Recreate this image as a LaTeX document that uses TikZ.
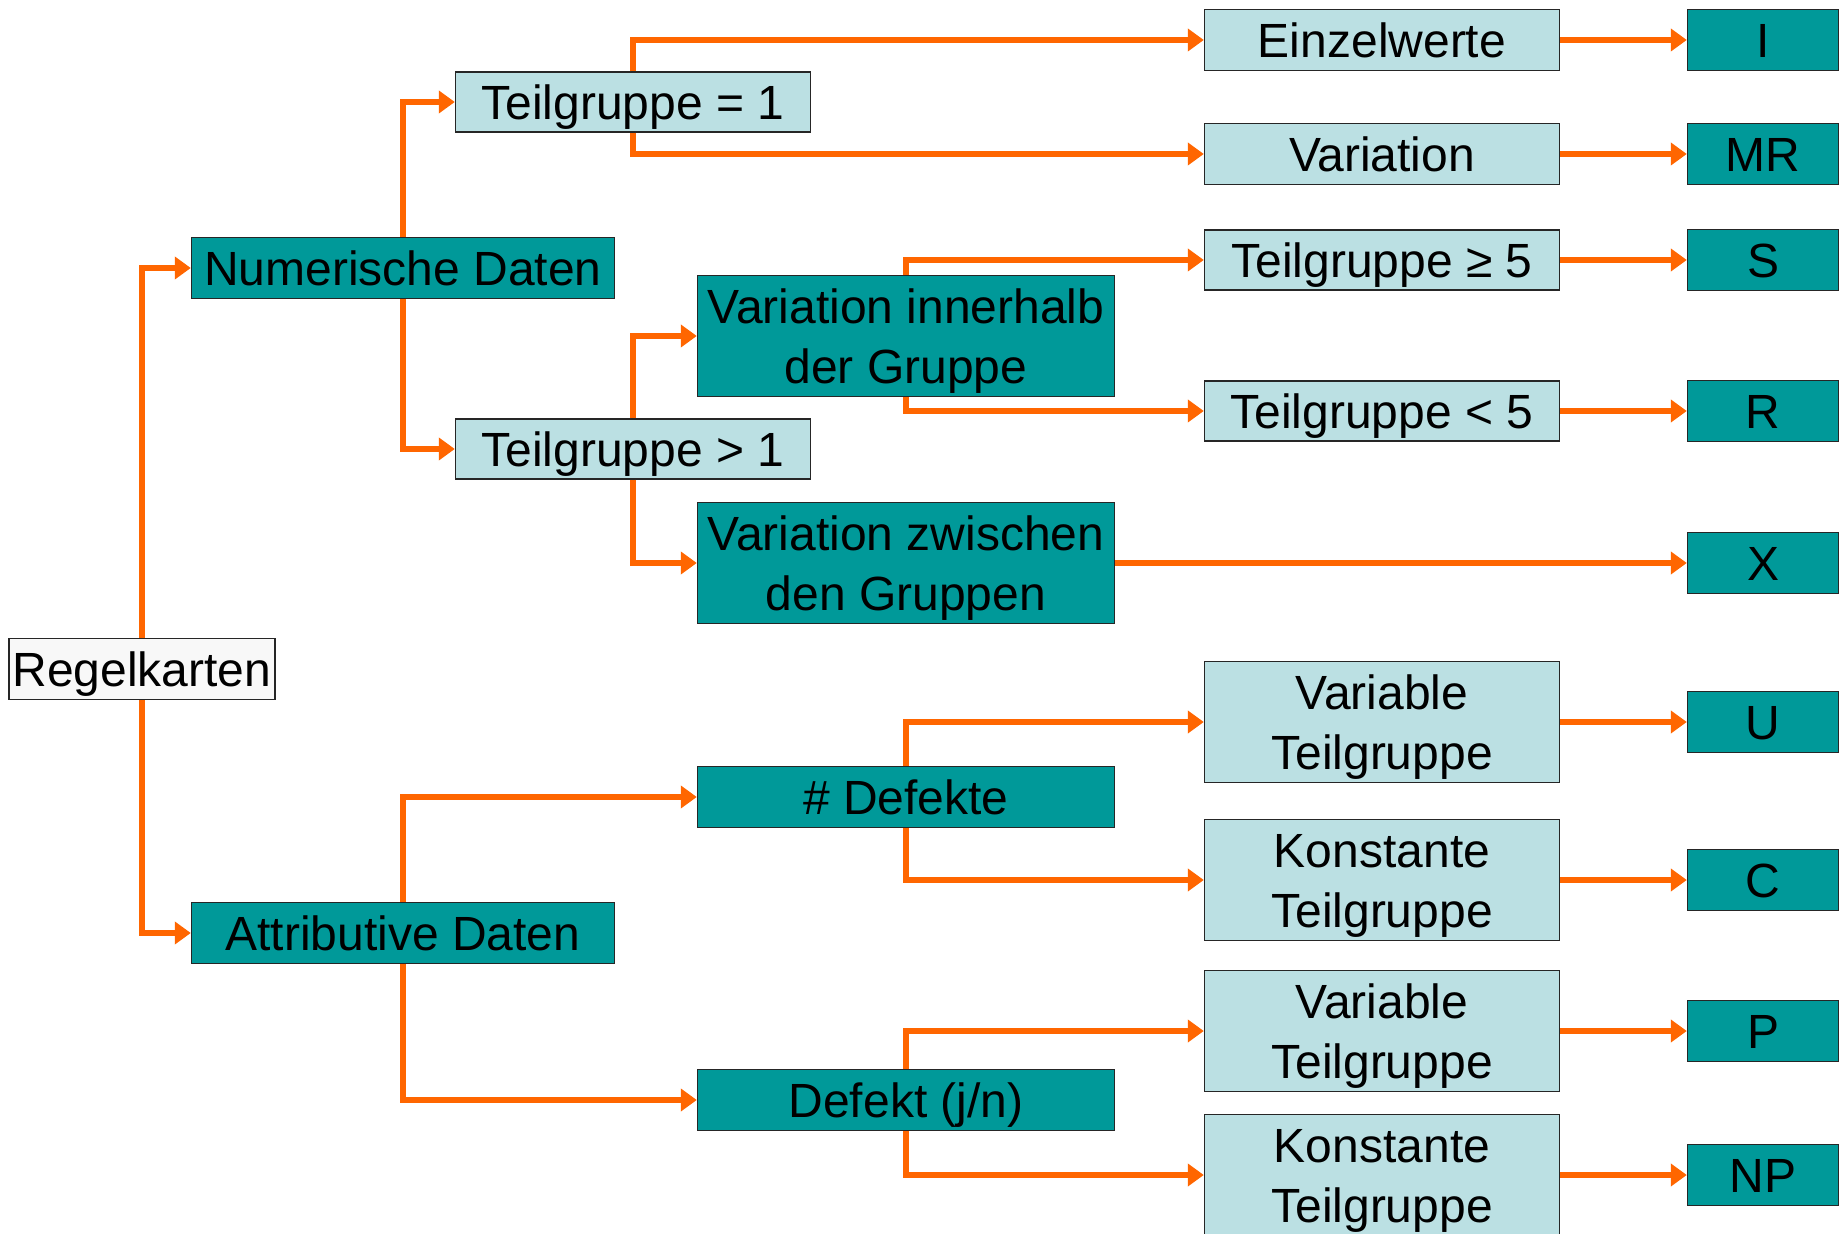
\documentclass[tikz,border=0pt]{standalone}
\usepackage{fontspec}
\setmainfont{Liberation Sans}
\usetikzlibrary{arrows.meta}
\definecolor{tealbox}{RGB}{0,153,153}
\definecolor{palefill}{RGB}{187,224,227}
\definecolor{rootfill}{RGB}{248,248,248}
\definecolor{linkorange}{RGB}{255,102,0}
\newcommand{\boxstrut}{\rule[-5.3pt]{0pt}{27.8pt}}
\tikzset{
  box/.style={draw=black!85, line width=0.7pt, inner sep=0pt, align=center,
    font=\fontsize{24}{30}\selectfont,
    execute at begin node=\boxstrut, execute at end node=\boxstrut},
  darkbox/.style={box, fill=tealbox},
  palebox/.style={box, fill=palefill},
  twolines/.style={minimum height=60.5pt, text depth=5.3pt, text height=52.9pt},
  link/.style={draw=linkorange, line width=2.8pt, -{Triangle[length=8pt,width=11pt]}},
}
\begin{document}
\begin{tikzpicture}[x=0.5pt,y=-0.5pt]
\useasboundingbox (0,0) rectangle (1841,1234);
% first levels
\node [box, fill=rootfill, minimum width=133pt, minimum height=30.5pt] (rk) at (142,669) {Regelkarten};
\node [darkbox, minimum width=211.5pt, minimum height=30.5pt] (nd) at (403,268) {Numerische Daten};
\node [darkbox, minimum width=211.5pt, minimum height=30.5pt] (ad) at (403,933) {Attributive Daten};
\node [palebox, minimum width=177.5pt, minimum height=30pt] (tg1) at (633,102) {Teilgruppe = 1};
\node [palebox, minimum width=177.5pt, minimum height=30pt] (tg2) at (633,449) {Teilgruppe > 1};
\node [darkbox, twolines, minimum width=208.5pt] (vi) at (906,336) {Variation innerhalb\\der Gruppe};
\node [darkbox, twolines, minimum width=208.5pt] (vz) at (906,563) {Variation zwischen\\den Gruppen};
\node [darkbox, minimum width=208.5pt, minimum height=30.5pt] (nd2) at (906,797) {\# Defekte};
\node [darkbox, minimum width=208.5pt, minimum height=30.5pt] (dj) at (906,1100) {Defekt (j/n)};
% right column
\node [palebox, minimum width=177.5pt, minimum height=30.5pt] (ew) at (1382,40) {Einzelwerte};
\node [palebox, minimum width=177.5pt, minimum height=30.5pt] (va) at (1382,154) {Variation};
\node [palebox, minimum width=177.5pt, minimum height=30pt] (tg5a) at (1382,260) {Teilgruppe ≥ 5};
\node [palebox, minimum width=177.5pt, minimum height=30pt] (tg5b) at (1382,411) {Teilgruppe < 5};
\node [palebox, twolines, minimum width=177.5pt] (vt1) at (1382,722) {Variable\\Teilgruppe};
\node [palebox, twolines, minimum width=177.5pt] (kt1) at (1382,880) {Konstante\\Teilgruppe};
\node [palebox, twolines, minimum width=177.5pt] (vt2) at (1382,1031) {Variable\\Teilgruppe};
\node [palebox, twolines, minimum width=177.5pt] (kt2) at (1382,1175) {Konstante\\Teilgruppe};
% chart types
\node [darkbox, minimum width=75.5pt, minimum height=30.5pt] (I) at (1763,40) {I};
\node [darkbox, minimum width=75.5pt, minimum height=30.5pt] (MR) at (1763,154) {MR};
\node [darkbox, minimum width=75.5pt, minimum height=30.5pt] (S) at (1763,260) {S};
\node [darkbox, minimum width=75.5pt, minimum height=30.5pt] (R) at (1763,411) {R};
\node [darkbox, minimum width=75.5pt, minimum height=30.5pt] (X) at (1763,563) {X};
\node [darkbox, minimum width=75.5pt, minimum height=30.5pt] (U) at (1763,722) {U};
\node [darkbox, minimum width=75.5pt, minimum height=30.5pt] (C) at (1763,880) {C};
\node [darkbox, minimum width=75.5pt, minimum height=30.5pt] (P) at (1763,1031) {P};
\node [darkbox, minimum width=75.5pt, minimum height=30.5pt] (NP) at (1763,1175) {NP};
% tree links
\draw [link] (rk) |- (nd);
\draw [link] (rk) |- (ad);
\draw [link] (nd) |- (tg1);
\draw [link] (nd) |- (tg2);
\draw [link] (tg1) |- (ew);
\draw [link] (tg1) |- (va);
\draw [link] (tg2) |- (vi);
\draw [link] (tg2) |- (vz);
\draw [link] (vi) |- (tg5a);
\draw [link] (vi) |- (tg5b);
\draw [link] (ad) |- (nd2);
\draw [link] (ad) |- (dj);
\draw [link] (nd2) |- (vt1);
\draw [link] (nd2) |- (kt1);
\draw [link] (dj) |- (vt2);
\draw [link] (dj) |- (kt2);
% straight links
\draw [link] (ew) -- (I);
\draw [link] (va) -- (MR);
\draw [link] (tg5a) -- (S);
\draw [link] (tg5b) -- (R);
\draw [link] (vz) -- (X);
\draw [link] (vt1) -- (U);
\draw [link] (kt1) -- (C);
\draw [link] (vt2) -- (P);
\draw [link] (kt2) -- (NP);
\end{tikzpicture}
\end{document}
